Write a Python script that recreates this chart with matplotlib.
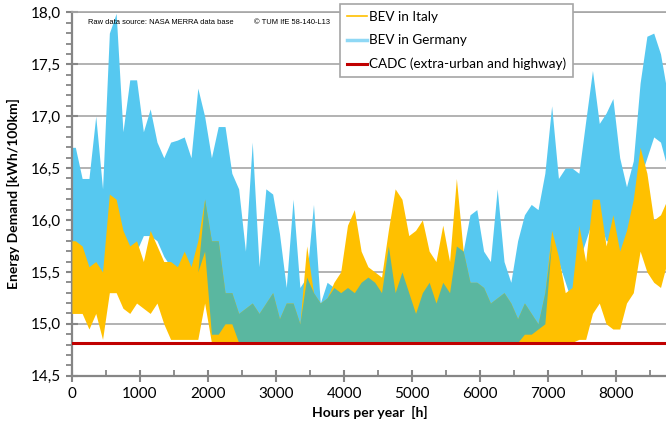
import matplotlib
matplotlib.use('Agg')
import matplotlib.pyplot as plt
from matplotlib.lines import Line2D
from matplotlib.ticker import MultipleLocator, FuncFormatter
import numpy as np

plt.rcParams['font.family'] = ['Lato', 'DejaVu Sans']

# hourly demand summarised per 100 h block: lower / upper envelope [kWh/100km]
hours = np.arange(50, 8800, 100)

italy_hi = [15.8, 15.75, 15.55, 15.6, 15.5, 16.25, 16.2, 15.9, 15.75, 15.8,
            15.6, 15.9, 15.75, 15.6, 15.6, 15.55, 15.7, 15.55, 15.8, 16.2,
            15.8, 15.8, 15.3, 15.3, 15.1, 15.15, 15.2, 15.1, 15.2, 15.3,
            15.05, 15.2, 15.2, 15.0, 15.75, 15.3, 15.2, 15.25, 15.4, 15.5,
            15.95, 16.1, 15.7, 15.55, 15.5, 15.45, 15.9, 16.3, 16.2, 15.85,
            15.9, 16.0, 15.7, 15.6, 15.95, 15.6, 16.4, 15.7, 15.4, 15.4,
            15.35, 15.2, 15.25, 15.3, 15.2, 15.05, 15.2, 15.1, 15.0, 15.3,
            15.9, 15.65, 15.3, 15.35, 15.95, 15.6, 16.2, 16.2, 15.75, 16.05,
            15.7, 15.9, 16.2, 16.7, 16.45, 16.0, 16.05, 16.2]
italy_lo = ([15.1, 15.1, 14.95, 15.1, 14.85, 15.3, 15.3, 15.15, 15.1, 15.2,
             15.15, 15.1, 15.2, 15.0, 14.85, 14.85, 14.85, 14.85, 14.85, 15.2]
            + [14.82] * 54
            + [14.85, 14.85, 15.1, 15.2, 15.0, 14.95, 14.95, 15.2, 15.3, 15.7,
               15.5, 15.4, 15.35, 15.6])

germany_hi = [16.7, 16.4, 16.4, 17.0, 16.3, 17.8, 17.99, 16.85, 17.35, 17.35,
              16.85, 17.07, 16.75, 16.6, 16.75, 16.77, 16.8, 16.6, 17.27, 17.0,
              16.6, 16.9, 16.9, 16.45, 16.3, 15.7, 16.75, 15.55, 16.3, 16.25,
              15.87, 15.35, 16.2, 15.35, 15.45, 16.15, 15.2, 15.4, 15.35, 15.3,
              15.35, 15.3, 15.4, 15.45, 15.4, 15.3, 15.75, 15.3, 15.5, 15.3,
              15.1, 15.3, 15.4, 15.2, 15.4, 15.3, 15.75, 15.7, 16.05, 16.1,
              15.7, 15.6, 16.3, 15.6, 15.4, 15.8, 16.05, 16.15, 16.1, 16.45,
              17.1, 16.4, 16.5, 16.5, 16.45, 16.95, 17.44, 16.93, 17.03, 17.17,
              16.6, 16.32, 16.57, 17.32, 17.77, 17.8, 17.6, 17.22]
germany_lo = ([15.55, 15.6, 15.5, 15.4, 15.4, 15.7, 15.9, 15.85, 15.7, 15.7,
               15.85, 15.85, 15.8, 15.65, 15.55, 15.5, 15.4, 15.3, 15.5, 15.7,
               14.9, 14.9, 15.0, 15.0]
              + [14.82] * 42
              + [14.9, 14.9, 14.95, 15.0, 15.8, 15.6, 15.4, 15.2, 15.6, 15.8,
                 16.0, 16.0, 15.8, 15.8, 15.5, 15.5, 15.8, 16.4, 16.6, 16.8,
                 16.75, 16.5])

cadc = 14.82

c_it = '#FFC000'
c_de = '#56C8F0'
c_both = '#5AB7A0'
c_cadc = '#C00000'

# extend the blocks to the start and end of the year
x = np.r_[0, hours, 8760]
def pad(v):
    v = np.asarray(v, float)
    return np.r_[v[0], v, v[-1]]

ilo, ihi = pad(italy_lo), pad(italy_hi)
glo, ghi = pad(germany_lo), pad(germany_hi)
olo, ohi = np.maximum(ilo, glo), np.minimum(ihi, ghi)
# both curves only interleave near the limit in the warm months
summer = (x >= 1950) & (x <= 7000)

fig = plt.figure(figsize=(6.66, 4.26), dpi=100)
ax = fig.add_axes([0.108, 0.118, 0.895, 0.853])

ax.fill_between(x, glo, ghi, color=c_de, lw=0, zorder=2)
ax.fill_between(x, ilo, ihi, color=c_it, lw=0, zorder=3)
ax.fill_between(x, olo, ohi, where=(ohi > olo) & summer, interpolate=True,
                color=c_both, lw=0, zorder=4)
ax.axhline(cadc, color=c_cadc, lw=2.2, zorder=5)

ax.set_xlim(0, 8760)
ax.set_ylim(14.5, 18.0)
ax.xaxis.set_major_locator(MultipleLocator(1000))
ax.xaxis.set_minor_locator(MultipleLocator(500))
ax.yaxis.set_major_locator(MultipleLocator(0.5))
ax.yaxis.set_minor_locator(MultipleLocator(0.1))
ax.yaxis.set_major_formatter(FuncFormatter(lambda v, p: f'{v:.1f}'.replace('.', ',')))

ax.grid(axis='y', color='#A6A6A6', lw=1.2, zorder=1)
ax.set_axisbelow(True)
ax.spines['right'].set_visible(False)
ax.spines['top'].set_color('#A6A6A6')
ax.spines['top'].set_linewidth(1.2)
for s in ['left', 'bottom']:
    ax.spines[s].set_color('#868686')
    ax.spines[s].set_linewidth(1.6)

ax.tick_params(axis='both', which='major', direction='inout', length=8,
               width=1.5, color='#868686', labelsize=11, pad=4)
ax.tick_params(axis='y', which='minor', direction='out', length=4,
               width=1.3, color='#868686')
ax.tick_params(axis='x', which='minor', direction='in', length=4,
               width=1.3, color='#868686')

ax.set_xlabel('Hours per year  [h]', fontsize=10, fontweight='bold', labelpad=4)
ax.set_ylabel('Energy Demand [kWh/100km]', fontsize=10, fontweight='bold', labelpad=8)

ax.text(0.027, 0.983, 'Raw data source: NASA MERRA data base', transform=ax.transAxes,
        fontsize=5.4, family='Liberation Sans', va='top', ha='left')
ax.text(0.306, 0.983, '\u00a9 TUM IfE 58-140-L13', transform=ax.transAxes,
        fontsize=5.4, family='Liberation Sans', va='top', ha='left')

handles = [Line2D([], [], color=c_it, lw=1.2),
           Line2D([], [], color='#8FD8F5', lw=2.5),
           Line2D([], [], color=c_cadc, lw=2.2)]
labels = ['BEV in Italy', 'BEV in Germany', 'CADC (extra-urban and highway)']
leg = fig.legend(handles, labels, loc='upper left', bbox_to_anchor=(0.511, 0.99),
                 fontsize=9.7, fancybox=False, framealpha=1, edgecolor='#A6A6A6',
                 handlelength=1.5, handletextpad=0.15, borderpad=0.5,
                 labelspacing=0.85, borderaxespad=0)
leg.get_frame().set_linewidth(1.2)

fig.savefig('out.png', dpi=100)
